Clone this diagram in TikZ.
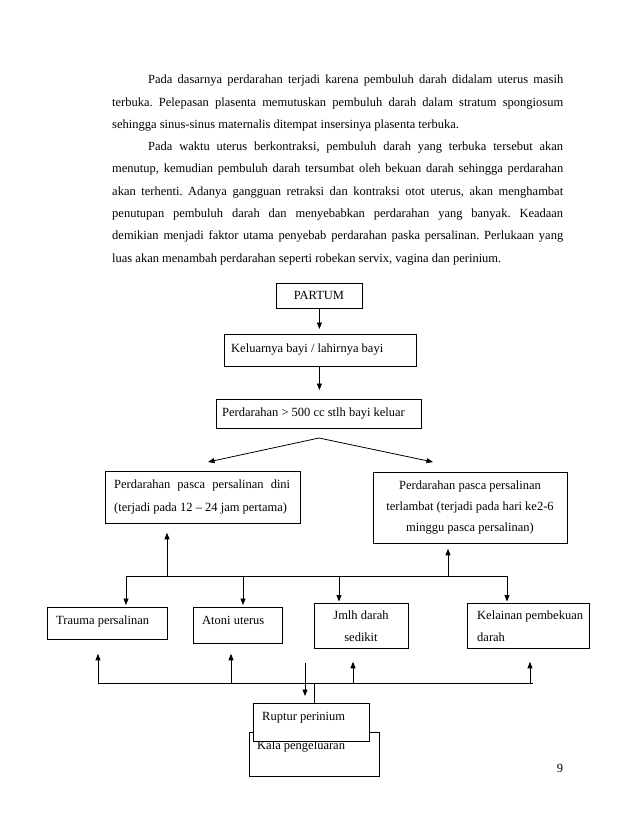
\documentclass[tikz,border=0pt]{standalone}
\usepackage{fontspec}
\setmainfont{Liberation Serif}
\usetikzlibrary{arrows.meta,calc}
\frenchspacing
\begin{document}
\frenchspacing
\begin{tikzpicture}[x=1pt,y=-1pt,
  every node/.style={font=\fontsize{12.5}{21}\selectfont, inner sep=0pt},
  box/.style={draw, line width=0.8pt, anchor=north west, inner sep=0pt, fill=white},
  ln/.style={line width=0.8pt},
  arr/.style={line width=0.8pt, -{Triangle[length=6.5pt,width=5pt]}},
  txt/.style={anchor=base west},
  ctxt/.style={anchor=base},
]
\useasboundingbox (0,0) rectangle (638,826);
\fill[white] (0,0) rectangle (638,826);

% ---- body text ----
\node[txt] (p1) at (148,84) {\makebox[415pt][s]{Pada dasarnya perdarahan terjadi karena pembuluh darah didalam uterus masih}};
\node[txt] (p2) at (112,106.25) {\makebox[451pt][s]{terbuka. Pelepasan plasenta memutuskan pembuluh darah dalam stratum spongiosum}};
\node[txt] (p3) at (112,128.5) {sehingga sinus-sinus maternalis ditempat insersinya plasenta terbuka.};
\node[txt] (p4) at (148,150.75) {\makebox[415pt][s]{Pada waktu uterus berkontraksi, pembuluh darah yang terbuka tersebut akan}};
\node[txt] (p5) at (112,173) {\makebox[451pt][s]{menutup, kemudian pembuluh darah tersumbat oleh bekuan darah sehingga perdarahan}};
\node[txt] (p6) at (112,195.25) {\makebox[451pt][s]{akan terhenti. Adanya gangguan retraksi dan kontraksi otot uterus, akan menghambat}};
\node[txt] (p7) at (112,217.5) {\makebox[451pt][s]{penutupan pembuluh darah dan menyebabkan perdarahan yang banyak. Keadaan}};
\node[txt] (p8) at (112,239.75) {\makebox[451pt][s]{demikian menjadi faktor utama penyebab perdarahan paska persalinan. Perlukaan yang}};
\node[txt] (p9) at (112,262) {luas akan menambah perdarahan seperti robekan servix, vagina dan perinium.};

% ---- boxes ----
\node[box, minimum width=86pt, minimum height=25pt] (partum) at (276,283) {};
\node[ctxt] (partumT) at (319,299.5) {PARTUM};

\node[box, minimum width=192pt, minimum height=32pt] (keluar) at (224,334) {};
\node[txt] (keluarT) at (231,352) {Keluarnya bayi / lahirnya bayi};

\node[box, minimum width=205pt, minimum height=29pt] (perd) at (216,399) {};
\node[txt] (perdT) at (222,416) {Perdarahan > 500 cc stlh bayi keluar};

\node[box, minimum width=195pt, minimum height=52pt] (dini) at (105,471) {};
\node[txt] (diniT1) at (114,488) {\makebox[176pt][s]{Perdarahan pasca persalinan dini}};
\node[txt] (diniT2) at (114,511) {(terjadi pada 12 – 24 jam pertama)};

\node[box, minimum width=194pt, minimum height=71pt] (terl) at (373,472) {};
\node[ctxt] (terlT1) at (470,489) {Perdarahan pasca persalinan};
\node[ctxt] (terlT2) at (470,510) {terlambat (terjadi pada hari ke2-6};
\node[ctxt] (terlT3) at (470,531) {minggu pasca persalinan)};

\node[box, minimum width=120pt, minimum height=32pt] (trauma) at (47,607) {};
\node[txt] (traumaT) at (56,624) {Trauma persalinan};

\node[box, minimum width=89pt, minimum height=36pt] (atoni) at (193,607) {};
\node[txt] (atoniT) at (202,624) {Atoni uterus};

\node[box, minimum width=94pt, minimum height=45pt] (jmlh) at (314,603) {};
\node[ctxt] (jmlhT1) at (361,619) {Jmlh darah};
\node[ctxt] (jmlhT2) at (361,641) {sedikit};

\node[box, minimum width=122pt, minimum height=45pt] (kel) at (467,603) {};
\node[txt] (kelT1) at (477,619) {Kelainan pembekuan};
\node[txt] (kelT2) at (477,641) {darah};

\node[box, minimum width=130pt, minimum height=44pt] (kala) at (249,732) {};
\node[txt] (kalaT) at (257,749) {Kala pengeluaran};

\node[box, minimum width=116pt, minimum height=38pt] (ruptur) at (253,703) {};
\node[txt] (rupturT) at (262,720) {Ruptur perinium};

\node[ctxt] (pnum) at (560,772) {9};

% ---- connectors ----
\draw[arr, shorten >=5pt] (partum.south) -- (partum.south |- keluar.north);
\draw[arr, shorten >=9pt] (partum.south |- keluar.south) -- (partum.south |- perd.north);

\coordinate (split) at (319,438);
\coordinate (tipL) at (208,462);
\coordinate (tipR) at (433,462);
\draw[arr] (split) -- (tipL);
\draw[arr] (split) -- (tipR);

\coordinate (t1) at (126,576);
\coordinate (t2) at (167,576);
\coordinate (t3) at (243,576);
\coordinate (t4) at (339,576);
\coordinate (t5) at (448,576);
\coordinate (t6) at (507,576);
\draw[ln] (t1) -- (t6);
\draw[arr, shorten >=2pt] (t1) -- (t1 |- trauma.north);
\draw[arr, shorten >=2pt] (t3) -- (t3 |- atoni.north);
\draw[arr, shorten >=1.5pt] (t4) -- (t4 |- jmlh.north);
\draw[arr, shorten >=1.5pt] (t6) -- (t6 |- kel.north);
\draw[arr, shorten >=9pt] (t2) -- (t2 |- dini.south);
\draw[arr, shorten >=5pt] (t5) -- (t5 |- terl.south);

\coordinate (u1) at (98,683);
\coordinate (u2) at (231,683);
\coordinate (u3) at (314,683);
\coordinate (u4) at (353,683);
\coordinate (u5) at (530,683);
\coordinate (uend) at (533,683);
\draw[ln] (u1) -- (uend);
\draw[arr, shorten >=14pt] (u1) -- (u1 |- trauma.south);
\draw[arr, shorten >=10pt] (u2) -- (u2 |- atoni.south);
\draw[arr, shorten >=13pt] (u4) -- (u4 |- jmlh.south);
\draw[arr, shorten >=13pt] (u5) -- (u5 |- kel.south);
\draw[ln] (u3) -- (u3 |- ruptur.north);

\coordinate (d1) at (305,663);
\coordinate (d2) at (305,696);
\draw[arr] (d1) -- (d2);
\end{tikzpicture}
\end{document}
